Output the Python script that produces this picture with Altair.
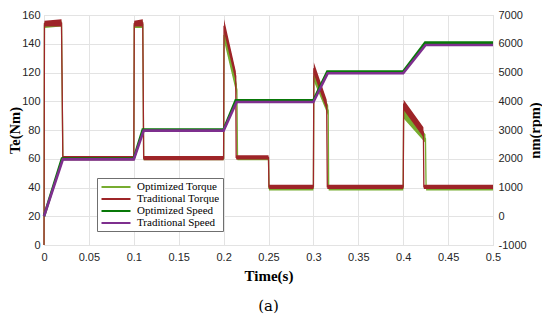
import altair as alt
import pandas as pd

# ---- data ----
series_names = ["Optimized Torque", "Traditional Torque", "Optimized Speed", "Traditional Speed"]
series_colors = ["#77AC30", "#9E2528", "#087808", "#7E2F8E"]

# Torque bands (lower / upper edge of the ripple band), Nm
opt_t = [0, 0.0005, 0.0195, 0.021, 0.1, 0.1005, 0.11, 0.111, 0.2, 0.2005, 0.2148, 0.2155,
         0.25, 0.2505, 0.3, 0.3005, 0.3165, 0.317, 0.4, 0.4005, 0.4248, 0.4255, 0.5]
opt_lo = [0, 151, 152, 59, 59, 151, 151, 59, 59, 142, 104, 59, 59, 38, 38, 114, 90, 38, 38, 88, 71, 38, 38]
opt_hi = [0, 155, 156, 61, 61, 155, 156, 61, 61, 150, 112, 61, 61, 41, 41, 121, 97, 41, 41, 95, 77, 41, 41]

trad_t = [0, 0.0005, 0.0195, 0.021, 0.1, 0.1005, 0.11, 0.111, 0.2, 0.2005, 0.2135, 0.214,
          0.25, 0.2505, 0.3, 0.3005, 0.3148, 0.3155, 0.4, 0.4005, 0.4225, 0.423, 0.5]
trad_lo = [0, 152, 152, 59, 59, 152, 152, 59, 59, 148, 114, 59.5, 59.5, 39, 39, 119, 94, 39, 39, 94, 75, 39, 39]
trad_hi = [0, 156, 157, 62, 62, 156, 157, 62, 62, 157, 121, 62.5, 62.5, 42, 42, 127, 101, 42, 42, 101, 82, 42, 42]

# Speeds, rpm
opt_speed_t = [0, 0.02, 0.1, 0.11, 0.2, 0.2135, 0.3, 0.3155, 0.4, 0.4245, 0.5]
opt_speed = [0, 2010, 2010, 3020, 3020, 4030, 4030, 5030, 5030, 6040, 6040]
trad_speed_t = [0, 0.021, 0.1, 0.111, 0.2, 0.2145, 0.3, 0.316, 0.4, 0.425, 0.5]
trad_speed = [0, 1980, 1980, 2980, 2980, 3975, 3975, 4975, 4975, 5955, 5955]

x_ticks = [0, 0.05, 0.1, 0.15, 0.2, 0.25, 0.3, 0.35, 0.4, 0.45, 0.5]
left_ticks = [0, 20, 40, 60, 80, 100, 120, 140, 160]
right_ticks = [-1000, 0, 1000, 2000, 3000, 4000, 5000, 6000, 7000]

torque_df = pd.concat([
    pd.DataFrame({"t": opt_t, "lo": opt_lo, "hi": opt_hi, "series": series_names[0]}),
    pd.DataFrame({"t": trad_t, "lo": trad_lo, "hi": trad_hi, "series": series_names[1]}),
])
speed_df = pd.concat([
    pd.DataFrame({"t": opt_speed_t, "rpm": opt_speed, "series": series_names[2]}),
    pd.DataFrame({"t": trad_speed_t, "rpm": trad_speed, "series": series_names[3]}),
])

TICKF = "Liberation Sans"
TITLEF = "Liberation Serif"

legend = alt.Legend(
    title=None, orient="none", legendX=53, legendY=163,
    symbolType="M-2.9,0H2.9", symbolSize=100, symbolStrokeWidth=2, symbolOffset=10,
    labelFont=TITLEF, labelFontSize=11, labelColor="black", labelOffset=15,
    fillColor="white", strokeColor="#6f6f6f", padding=3, rowPadding=1,
)
color = alt.Color("series:N", scale=alt.Scale(domain=series_names, range=series_colors), legend=legend)

x_enc = alt.X("t:Q", scale=alt.Scale(domain=[0, 0.5], nice=False),
              axis=alt.Axis(values=x_ticks, format="~g", title="Time(s)", ticks=False, domain=False,
                            labelFlush=False, grid=True, gridColor="#e3e3e3", labelFont=TICKF,
                            labelFontSize=11, labelColor="#262626", labelPadding=6, titleFont=TITLEF,
                            titleFontSize=15, titleFontWeight="bold", titleColor="black", titleY=30,
                            titleBaseline="middle"))

left_axis = alt.Axis(values=left_ticks, title="Te(Nm)", ticks=False, domain=False, grid=True,
                     labelFlush=False, gridColor="#e3e3e3", labelFont=TICKF, labelFontSize=11,
                     labelColor="#262626", labelPadding=4, titleFont=TITLEF, titleFontSize=14.5,
                     titleFontWeight="bold", titleColor="black", titleX=-29, titleY=115, titleAngle=270,
                     titleBaseline="middle", titleAlign="center")
right_axis = alt.Axis(values=right_ticks, labelExpr="'' + datum.value", title="nm(rpm)", orient="right",
                      ticks=False, domain=False, grid=False, labelFlush=False, labelFont=TICKF,
                      labelFontSize=11, labelColor="#262626", labelPadding=5, titleFont=TITLEF,
                      titleFontSize=14.5, titleFontWeight="bold", titleColor="black", titleX=42,
                      titleY=115, titleAngle=270, titleBaseline="middle", titleAlign="center")

y_left = alt.Scale(domain=[0, 160], nice=False)
y_right = alt.Scale(domain=[-1000, 7000], nice=False)

torque_layers = []
for name in series_names[:2]:
    base = alt.Chart(torque_df).transform_filter(alt.datum.series == name)
    band = base.mark_area(opacity=1).encode(
        x=x_enc, y=alt.Y("lo:Q", scale=y_left, axis=left_axis), y2="hi:Q", color=color)
    mid = base.transform_calculate(mid="(datum.lo + datum.hi) / 2").mark_line(strokeWidth=1.3).encode(
        x=x_enc, y=alt.Y("mid:Q", scale=y_left, axis=left_axis), color=color)
    torque_layers += [band, mid]
torque = alt.layer(*torque_layers)

speed_layers = []
for name in series_names[2:]:
    speed_layers.append(
        alt.Chart(speed_df).transform_filter(alt.datum.series == name).mark_line(strokeWidth=2.6).encode(
            x=x_enc, y=alt.Y("rpm:Q", scale=y_right, axis=right_axis), color=color))
speed = alt.layer(*speed_layers)

chart = alt.layer(torque, speed).resolve_scale(y="independent").properties(
    width=449, height=230,
    autosize=alt.AutoSizeParams(type="none"),
    padding={"left": 36, "top": 7, "right": 49, "bottom": 76},
    title=alt.TitleParams("(a)", orient="bottom", anchor="middle", font="DejaVu Serif",
                          fontSize=15, fontWeight="normal", color="black", offset=16),
).configure_view(stroke="#6f6f6f", strokeWidth=1).configure(background="white")

chart.save("out.html", embed_options={"renderer": "svg", "actions": False})
